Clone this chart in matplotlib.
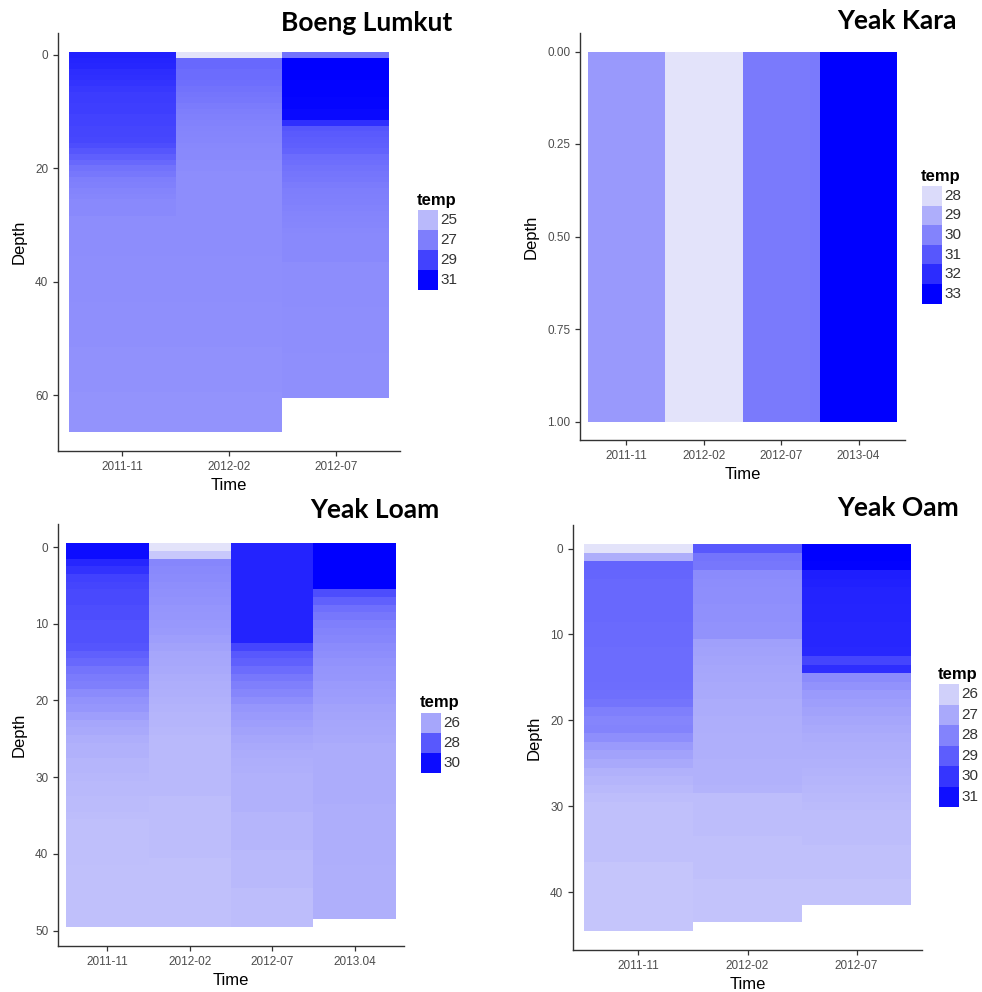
import numpy as np
import matplotlib.pyplot as plt
from matplotlib.colors import LinearSegmentedColormap, Normalize
from matplotlib.patches import Rectangle

plt.rcParams['font.family'] = ['Liberation Sans', 'DejaVu Sans']

# ---- data: temperature per depth step (one value per 1 m tile) ----
bl_times = ['2011-11', '2012-02', '2012-07']
bl_2011_11 = [30.1, 30.0, 29.9, 29.7, 29.6, 29.5,
              29.3, 29.2, 29.2, 29.1, 29.1, 29.0, 29.0, 28.9, 28.9, 28.8,
              28.6, 28.3, 28.0, 27.7, 27.4, 27.2,
              27.0, 26.9, 26.8, 26.7,
              26.6, 26.6, 26.6, 26.5, 26.5, 26.5, 26.5, 26.5, 26.5, 26.5] + \
             [26.45] * 8 + [26.4] * 8 + [26.35] * 8 + [26.3] * 7
bl_2012_02 = [23.6, 27.7, 27.7, 27.6, 27.6, 27.5,
              27.4, 27.3, 27.2, 27.1, 27.0,
              26.9, 26.85, 26.8, 26.75, 26.7, 26.65, 26.6, 26.6, 26.55, 26.55] + \
             [26.5] * 15 + [26.45] * 8 + [26.4] * 8 + [26.35] * 8 + [26.3] * 7
bl_2012_07 = [27.4,
              31.2, 31.2, 31.2, 31.2, 31.1, 31.1, 31.1, 31.0, 31.0, 30.9, 30.9,
              29.6,
              28.3, 28.2, 28.1, 28.0, 27.9,
              27.6, 27.5, 27.4, 27.3, 27.2, 27.1,
              27.0, 26.95, 26.9, 26.85, 26.8, 26.75, 26.7, 26.65] + \
             [26.6] * 5 + [26.5] * 8 + [26.45] * 8 + [26.4] * 8
bl_breaks = [25, 27, 29, 31]

yk_times = ['2011-11', '2012-02', '2012-07', '2013-04']
yk_temp = [[29.5], [27.8], [30.2], [33.0]]
yk_breaks = [28, 29, 30, 31, 32, 33]

yl_times = ['2011-11', '2012-02', '2012-07', '2013.04']
yl_2011_11 = [30.0, 30.0, 29.3, 29.0,
              28.6, 28.5, 28.4, 28.4,
              28.3, 28.3, 28.2, 28.2, 28.2, 28.1,
              27.8, 27.6,
              27.3, 27.1, 27.0,
              26.7, 26.5, 26.4,
              26.2, 26.0, 25.9, 25.8,
              25.7, 25.7, 25.6, 25.6, 25.55, 25.5, 25.5, 25.45, 25.45, 25.4] + [25.35] * 6 + [25.3] * 8
yl_2012_02 = [24.4, 25.1, 26.8, 26.75, 26.7,
              26.6, 26.55, 26.5, 26.45, 26.4, 26.35,
              26.3, 26.2, 26.1, 26.0, 25.95,
              25.9, 25.85, 25.8, 25.75, 25.7, 25.65, 25.6, 25.6, 25.55] + [25.5] * 8 + [25.4] * 8 + [25.3] * 9
yl_2012_07 = [29.4] * 13 + [28.5,
              28.0, 27.8, 27.5,
              27.2, 27.0, 26.8, 26.6, 26.4,
              26.3, 26.2, 26.1, 26.0, 25.9, 25.85, 25.8, 25.75] + [25.7] * 5 + [25.6] * 5 + [25.5] * 5 + [25.4] * 5
yl_2013_04 = [30.3] * 6 + [28.3, 27.8,
              27.4, 27.2, 27.0, 26.9, 26.8,
              26.7, 26.6, 26.5, 26.45, 26.4, 26.3, 26.25, 26.2,
              26.1, 26.05, 26.0, 25.95, 25.9] + [25.85] * 8 + [25.8] * 8 + [25.75] * 7
yl_breaks = [26, 28, 30]

yo_times = ['2011-11', '2012-02', '2012-07']
yo_2011_11 = [25.5, 26.9, 28.8,
              28.75, 28.7, 28.7, 28.7, 28.7, 28.7, 28.65, 28.65, 28.65, 28.6, 28.6, 28.6, 28.6, 28.55,
              28.5, 28.4,
              28.1, 27.95, 28.0, 27.7,
              27.4, 27.2, 27.0,
              26.8, 26.7, 26.6, 26.5] + [26.4] * 7 + [26.3] * 8
yo_2012_02 = [29.1, 28.4, 28.3,
              27.8, 27.75, 27.7, 27.7, 27.65, 27.65, 27.6, 27.6,
              27.25, 27.2, 27.15, 27.1,
              27.05, 27.0, 27.0, 26.95, 26.95, 26.9,
              26.9, 26.85, 26.85, 26.85, 26.8, 26.8, 26.8, 26.75] + [26.5] * 5 + [26.4] * 5 + [26.35] * 5
yo_2012_07 = [31.4, 31.4, 31.35,
              30.6, 30.55, 30.5, 30.5, 30.45, 30.45, 30.4, 30.4, 30.4, 30.35,
              29.6, 30.2,
              27.8, 27.6,
              27.4, 27.3, 27.2, 27.1, 27.0, 26.95,
              26.9, 26.85, 26.8, 26.75, 26.7, 26.65, 26.6, 26.55] + [26.5] * 4 + [26.4] * 4 + [26.35] * 3
yo_breaks = [26, 27, 28, 29, 30, 31]

cmap = LinearSegmentedColormap.from_list('temp', ['#E3E3FA', '#0000FF'])

fig = plt.figure(figsize=(9.82, 9.92), dpi=100)
W, H = 982, 992


def px_axes(x0, y0, x1, y1):
    return fig.add_axes([x0 / W, 1 - y1 / H, (x1 - x0) / W, (y1 - y0) / H])


def draw_panel(ax, times, profiles, top, step, yticks, fmt):
    allv = np.concatenate([np.asarray(p, float) for p in profiles])
    norm = Normalize(allv.min(), allv.max())
    nmax = max(len(p) for p in profiles)
    for i, prof in enumerate(profiles):
        edges = top + step * np.arange(len(prof) + 1)
        ax.pcolormesh([i + 0.5, i + 1.5], edges, np.asarray(prof, float).reshape(-1, 1),
                      cmap=cmap, norm=norm, shading='flat', linewidth=0, antialiased=False)
    lo, hi = top, top + step * nmax
    pad = 0.05 * (hi - lo)
    ax.set_ylim(hi + pad, lo - pad)
    ax.set_xlim(0.4, len(times) + 0.6)
    ax.set_xticks(range(1, len(times) + 1))
    ax.set_xticklabels(times)
    ax.set_yticks(yticks)
    ax.set_yticklabels([fmt.format(t) for t in yticks])
    for s in ['top', 'right']:
        ax.spines[s].set_visible(False)
    for s in ['left', 'bottom']:
        ax.spines[s].set_color('#333333')
        ax.spines[s].set_linewidth(1.0)
    ax.tick_params(colors='#333333', labelcolor='#4D4D4D', labelsize=8.5, length=3.5, width=0.9)
    ax.set_xlabel('Time', fontsize=12, color='black', labelpad=4)
    ax.set_ylabel('Depth', fontsize=12, color='black', labelpad=6)
    ax.set_facecolor('white')
    return norm


ax1 = px_axes(58, 33, 400, 451)
n1 = draw_panel(ax1, bl_times, [bl_2011_11, bl_2012_02, bl_2012_07], -0.5, 1, [0, 20, 40, 60], '{:g}')
ax2 = px_axes(580, 33, 905, 440)
n2 = draw_panel(ax2, yk_times, yk_temp, 0.0, 1, [0, 0.25, 0.5, 0.75, 1.0], '{:.2f}')
ax3 = px_axes(58, 524, 404, 946)
n3 = draw_panel(ax3, yl_times, [yl_2011_11, yl_2012_02, yl_2012_07, yl_2013_04], -0.5, 1,
                [0, 10, 20, 30, 40, 50], '{:g}')
ax4 = px_axes(573, 525, 922, 950)
n4 = draw_panel(ax4, yo_times, [yo_2011_11, yo_2012_02, yo_2012_07], -0.5, 1,
                [0, 10, 20, 30, 40], '{:g}')

# overlay for titles and legends (pixel coordinates)
ov = fig.add_axes([0, 0, 1, 1], zorder=10)
ov.set_xlim(0, W)
ov.set_ylim(H, 0)
ov.axis('off')
ov.patch.set_alpha(0)


def legend(x, y, kh, norm, breaks):
    ov.text(x - 1, y, 'temp', fontsize=12, fontweight='bold', ha='left', va='center')
    top = y + 10
    for k, b in enumerate(breaks):
        ov.add_patch(Rectangle((x, top + k * kh), 20, kh, facecolor=cmap(norm(b)), edgecolor='none'))
        ov.text(x + 22, top + (k + 0.5) * kh, str(b), fontsize=11, color='#333333', ha='left', va='center')


legend(418, 200, 20, n1, bl_breaks)
legend(922, 176, 19.6, n2, yk_breaks)
legend(421, 703, 20, n3, yl_breaks)
legend(939, 674, 20.5, n4, yo_breaks)

title_kw = dict(fontsize=19, fontweight='bold', family=['Lato', 'DejaVu Sans'], ha='right', va='baseline')
ov.text(452, 31, 'Boeng Lumkut', **title_kw)
ov.text(957, 29, 'Yeak Kara', **title_kw)
ov.text(439, 518, 'Yeak Loam', **title_kw)
ov.text(959, 516, 'Yeak Oam', **title_kw)

fig.savefig('out.png', dpi=100, facecolor='white')
